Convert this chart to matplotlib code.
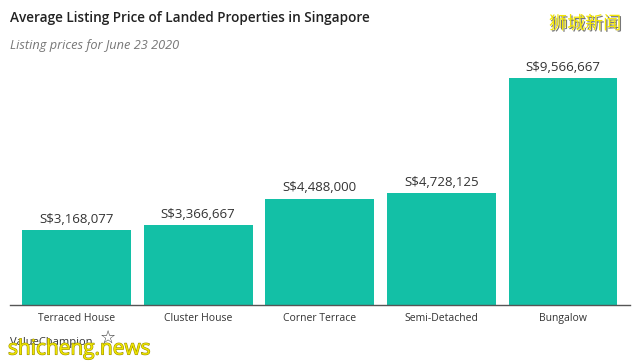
import matplotlib
matplotlib.use("Agg")
import matplotlib.pyplot as plt
import matplotlib.patheffects as pe

categories = ["Terraced House", "Cluster House", "Corner Terrace", "Semi-Detached", "Bungalow"]
prices = [3168077, 3366667, 4488000, 4728125, 9566667]
value_labels = ["S$3,168,077", "S$3,366,667", "S$4,488,000", "S$4,728,125", "S$9,566,667"]

W, H = 640, 364
fig = plt.figure(figsize=(W / 100, H / 100), dpi=100)
fig.patch.set_facecolor("white")

base_px, top_px = 305, 60
ax = fig.add_axes([10 / W, (H - base_px) / H, 620 / W, (base_px - top_px) / H])
x = list(range(len(categories)))
ax.bar(x, prices, width=0.896, color="#13c0a6", zorder=2)
ax.set_xlim(-0.547, 4.551)
ax.set_ylim(0, max(prices) * (base_px - top_px) / (base_px - 78))

for xi, p, lab in zip(x, prices, value_labels):
    ax.annotate(lab, (xi, p), xytext=(0, 3), textcoords="offset points",
                ha="center", va="bottom", fontsize=9.5, color="#333333",
                family="Open Sans")

ax.set_xticks(x)
ax.set_xticklabels(categories, fontsize=7.5, color="#333333", family="Open Sans")
ax.tick_params(axis="x", length=0, pad=6)
ax.set_yticks([])
for s in ["top", "right", "left"]:
    ax.spines[s].set_visible(False)
ax.spines["bottom"].set_color("#555555")
ax.spines["bottom"].set_linewidth(1.0)

fig.text(10 / W, 1 - 18 / H, "Average Listing Price of Landed Properties in Singapore",
         fontsize=9.8, fontweight="semibold", color="#222222", family="Open Sans",
         ha="left", va="center")
fig.text(10 / W, 1 - 46 / H, "Listing prices for June 23 2020",
         fontsize=9.2, style="italic", color="#777777", family="Open Sans",
         ha="left", va="center")

# watermarks
fig.text(585 / W, 1 - 24 / H, "狮城新闻", fontsize=13, color="#f2e600",
         family=["Noto Sans CJK SC", "DejaVu Sans"], ha="center", va="center",
         path_effects=[pe.withSimplePatchShadow(offset=(1, -1), shadow_rgbFace="#555555", alpha=0.8)])
fig.text(10 / W, 1 - 342 / H, "ValueChampion", fontsize=8, color="#333333",
         family="Open Sans", ha="left", va="center")
fig.text(108 / W, 1 - 338 / H, "☆", fontsize=13, color="#444444",
         family="DejaVu Sans", ha="center", va="center")
fig.text(8 / W, 1 - 349 / H, "shicheng.news", fontsize=15, color="#eee400",
         family="Open Sans", ha="left", va="center",
         path_effects=[pe.withStroke(linewidth=0.8, foreground="#9a8e00")])

fig.savefig("out.png", dpi=100, facecolor="white")
